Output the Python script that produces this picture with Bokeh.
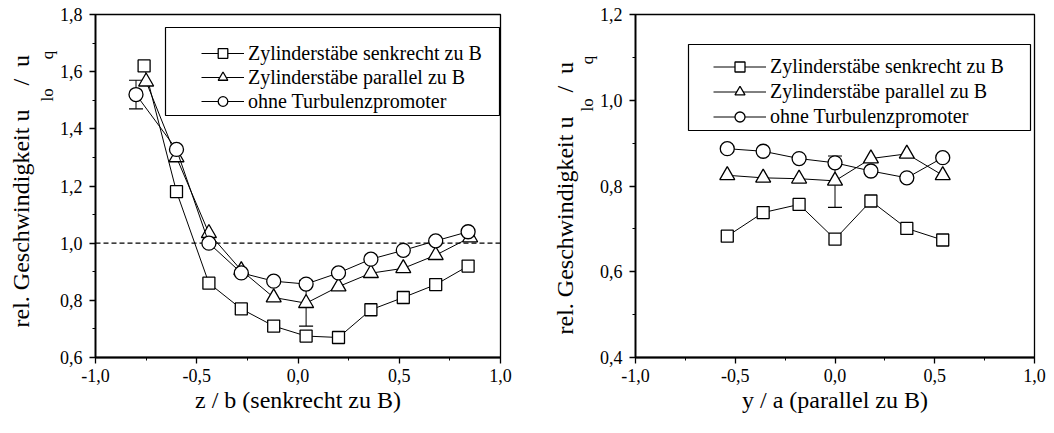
from bokeh.plotting import figure
from bokeh.models import (ColumnDataSource, Legend, LegendItem, Span, Whisker, TeeHead,
                          FixedTicker, CustomJSTickFormatter, BoxAnnotation, Range1d, Title)
from bokeh.layouts import row
from bokeh.embed import file_html
from bokeh.resources import INLINE

FONT = "Liberation Serif"

# ---------------- data: left panel (z / b) ----------------
z_senk = [-0.76, -0.60, -0.44, -0.28, -0.12, 0.04, 0.20, 0.36, 0.52, 0.68, 0.84]
u_senk = [1.62, 1.18, 0.86, 0.77, 0.71, 0.675, 0.67, 0.767, 0.81, 0.855, 0.92]
z_par = [-0.75, -0.60, -0.44, -0.28, -0.12, 0.04, 0.20, 0.36, 0.52, 0.68, 0.85]
u_par = [1.565, 1.30, 1.035, 0.905, 0.81, 0.79, 0.848, 0.895, 0.912, 0.958, 1.02]
z_ohne = [-0.80, -0.60, -0.44, -0.28, -0.12, 0.04, 0.20, 0.36, 0.52, 0.68, 0.84]
u_ohne = [1.52, 1.328, 1.0, 0.896, 0.867, 0.857, 0.896, 0.944, 0.975, 1.008, 1.04]
err_l_x = [-0.80, 0.04]
err_l_lo = [1.47, 0.71]
err_l_hi = [1.57, 0.87]
ref_level = 1.0

# ---------------- data: right panel (y / a) ----------------
y_pos = [-0.54, -0.36, -0.18, 0.0, 0.18, 0.36, 0.54]
r_senk = [0.683, 0.738, 0.757, 0.676, 0.765, 0.701, 0.674]
r_par = [0.825, 0.819, 0.817, 0.812, 0.864, 0.875, 0.825]
r_ohne = [0.887, 0.881, 0.864, 0.854, 0.835, 0.819, 0.866]
err_r_x = [0.0]
err_r_lo = [0.75]
err_r_hi = [0.87]

series_names = ["Zylinderstäbe senkrecht zu B",
                "Zylinderstäbe parallel zu B",
                "ohne Turbulenzpromoter"]

# ---------------- ticks & labels ----------------
x_ticks = [-1.0, -0.5, 0.0, 0.5, 1.0]
x_tick_labels = ["-1,0", "-0,5", "0,0", "0,5", "1,0"]
x_minor = [-0.75, -0.25, 0.25, 0.75]
yl_ticks = [0.6, 0.8, 1.0, 1.2, 1.4, 1.6, 1.8]
yl_labels = ["0,6", "0,8", "1,0", "1,2", "1,4", "1,6", "1,8"]
yl_minor = [0.7, 0.9, 1.1, 1.3, 1.5, 1.7]
yr_ticks = [0.4, 0.6, 0.8, 1.0, 1.2]
yr_labels = ["0,4", "0,6", "0,8", "1,0", "1,2"]
yr_minor = [0.5, 0.7, 0.9, 1.1]

xlabel_left = "z / b (senkrecht zu B)"
xlabel_right = "y / a (parallel zu B)"
ylabel_main = "rel. Geschwindigkeit u\u2003/\u2002u"
ylabel_sub_left = "lo\u2003\u2002\u2009q"
ylabel_sub_right = "lo\u2003\u2003q"


def fmt(ticks, labels):
    return CustomJSTickFormatter(args=dict(t=ticks, l=labels), code="""
        for (let i = 0; i < t.length; i++) { if (Math.abs(t[i] - tick) < 1e-6) return l[i]; }
        return "";
    """)


def make_fig(width, height, bl, br, bt, bb, yr, yt, yl, ym, xlabel):
    p = figure(width=width, height=height, output_backend="svg", toolbar_location=None,
               min_border_left=bl, min_border_right=br, min_border_top=bt, min_border_bottom=bb,
               x_range=Range1d(-1.0, 1.0), y_range=Range1d(*yr))
    p.grid.visible = False
    p.outline_line_color = "black"
    p.outline_line_width = 1.3
    p.background_fill_color = "white"
    p.border_fill_color = "white"
    p.xaxis.ticker = FixedTicker(ticks=x_ticks, minor_ticks=x_minor)
    p.xaxis.formatter = fmt(x_ticks, x_tick_labels)
    p.yaxis.ticker = FixedTicker(ticks=yt, minor_ticks=ym)
    p.yaxis.formatter = fmt(yt, yl)
    for ax in (p.xaxis[0], p.yaxis[0]):
        ax.axis_line_width = 1.8
        ax.axis_line_color = "black"
        ax.major_tick_line_color = "black"
        ax.minor_tick_line_color = "black"
        ax.major_tick_line_width = 1.3
        ax.minor_tick_line_width = 1.0
        ax.major_tick_out = 6
        ax.major_tick_in = 0
        ax.minor_tick_out = 3
        ax.minor_tick_in = 0
        ax.major_label_text_font = FONT
        ax.major_label_text_font_size = "18px"
        ax.major_label_text_color = "black"
    p.yaxis.major_label_standoff = 7
    p.xaxis.major_label_standoff = 5
    p.xaxis.axis_label = xlabel
    p.xaxis.axis_label_text_font = FONT
    p.xaxis.axis_label_text_font_size = "24px"
    p.xaxis.axis_label_text_font_style = "normal"
    p.xaxis.axis_label_text_color = "black"
    p.xaxis.axis_label_standoff = 2
    return p


def add_series(p, xs, ys, marker, size):
    src = ColumnDataSource(dict(x=xs, y=ys))
    ln = p.line("x", "y", source=src, line_color="black", line_width=1.0)
    sc = p.scatter("x", "y", source=src, marker=marker, size=size, fill_color="white",
                   line_color="black", line_width=1.3)
    return [ln, sc]


def add_err(p, xs, lo, hi):
    src = ColumnDataSource(dict(x=xs, lo=lo, hi=hi))
    w = Whisker(base="x", lower="lo", upper="hi", source=src, level="underlay",
                line_color="black", line_width=1.0,
                lower_head=TeeHead(size=14, line_color="black", line_width=1.2),
                upper_head=TeeHead(size=14, line_color="black", line_width=1.2))
    p.add_layout(w)


def add_ylabel(p, sub_text, sub_off, main_off, main_standoff):
    p.add_layout(Title(text=sub_text, align="left", offset=sub_off, standoff=0,
                       text_font=FONT, text_font_size="17px", text_font_style="normal",
                       text_color="black"), "left")
    p.add_layout(Title(text=ylabel_main, align="left", offset=main_off, standoff=main_standoff,
                       text_font=FONT, text_font_size="24px", text_font_style="normal",
                       text_color="black"), "left")


def add_legend(p, rends, loc, gw, gh, box):
    items = [LegendItem(label=n, renderers=r) for n, r in zip(series_names, rends)]
    lg = Legend(items=items, location=loc, padding=0, spacing=0, margin=0,
                glyph_width=gw, glyph_height=gh, label_height=gh, label_standoff=4,
                label_text_font=FONT, label_text_font_size="20px", label_text_color="black",
                border_line_alpha=0, background_fill_alpha=0)
    p.add_layout(BoxAnnotation(left=box[0], right=box[1], bottom=box[2], top=box[3],
                               left_units="screen", right_units="screen",
                               bottom_units="screen", top_units="screen",
                               fill_color="white", fill_alpha=1.0,
                               line_color="black", line_width=1.2, line_alpha=1.0))
    p.add_layout(lg)


# ---------------- left figure ----------------
p1 = make_fig(520, 425, 95, 20, 12, 68, (0.6, 1.8), yl_ticks, yl_labels, yl_minor, xlabel_left)
p1.add_layout(Span(location=ref_level, dimension="width", line_color="black",
                   line_width=1.2, line_dash="5 3", level="underlay"))
add_err(p1, err_l_x, err_l_lo, err_l_hi)
r1 = [add_series(p1, z_senk, u_senk, "square", 12),
      add_series(p1, z_par, u_par, "triangle", 15),
      add_series(p1, z_ohne, u_ohne, "circle", 14)]
add_legend(p1, r1, (106, 244), 43, 24, (70, 404, 242, 330))
add_ylabel(p1, ylabel_sub_left, 256, 30, 4)

# ---------------- right figure ----------------
p2 = make_fig(526, 425, 115, 12, 14, 67, (0.4, 1.2), yr_ticks, yr_labels, yr_minor, xlabel_right)
add_err(p2, err_r_x, err_r_lo, err_r_hi)
r2 = [add_series(p2, y_pos, r_senk, "square", 12),
      add_series(p2, y_pos, r_par, "triangle", 15),
      add_series(p2, y_pos, r_ohne, "circle", 14)]
add_legend(p2, r2, (78, 228), 53, 25, (53, 395, 227, 313))
add_ylabel(p2, ylabel_sub_right, 246, 23, -5)

layout = row(p1, p2)
open("out.html", "w").write(file_html(layout, INLINE))
